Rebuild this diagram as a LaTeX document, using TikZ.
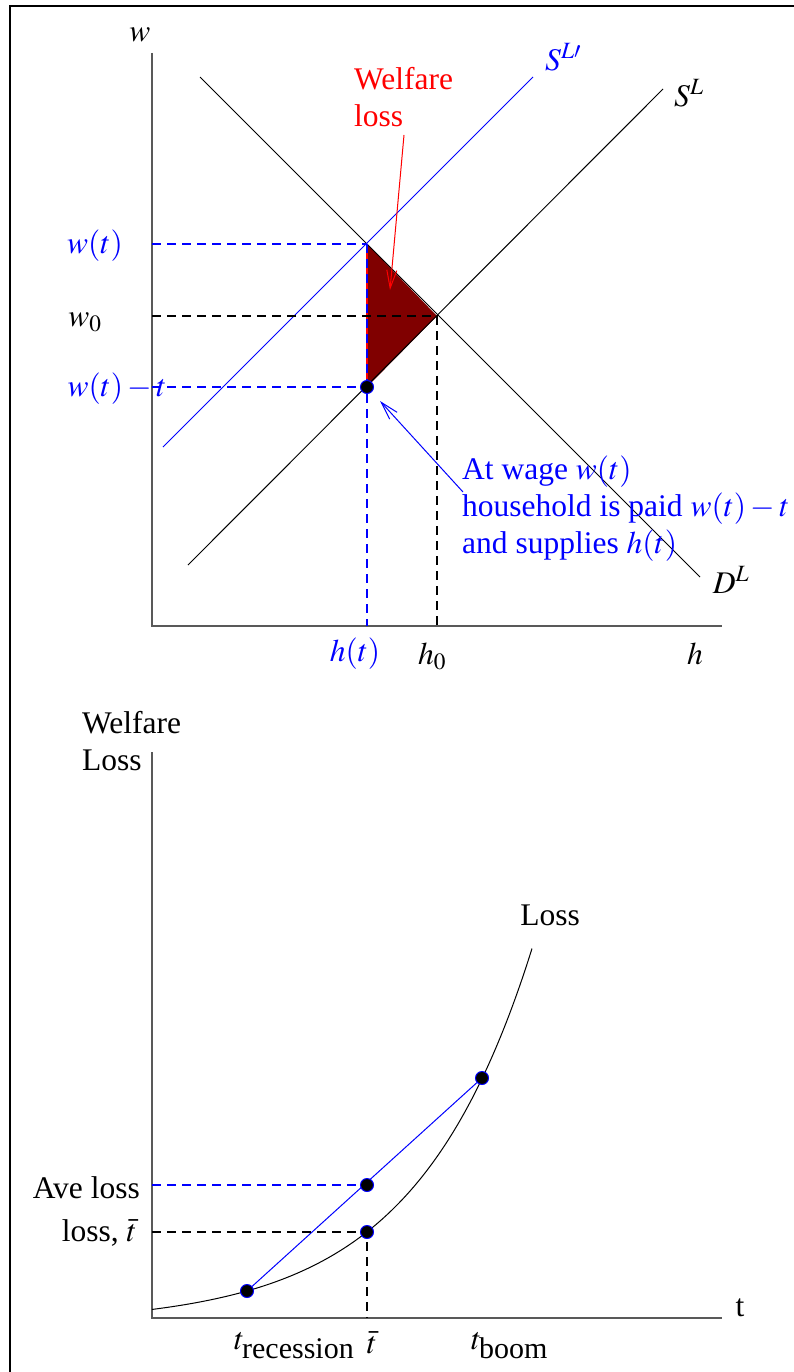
\documentclass[tikz,border=0pt]{standalone}
\usepackage{mathptmx}
\usepackage{fontspec}
\setmainfont{Liberation Serif}
\usetikzlibrary{arrows.meta}
\definecolor{pureblue}{rgb}{0,0,1}
\definecolor{darkred}{rgb}{0.5,0,0}
\begin{document}
\begin{tikzpicture}[x=1pt,y=-1pt,
  every node/.style={font=\fontsize{31.5}{37}\selectfont, inner sep=0pt},
  axis/.style={draw=black!65, line width=1.6pt},
  curve/.style={line width=1pt},
  kdash/.style={draw=black, line width=1.1pt, dash pattern=on 9pt off 6pt},
  bdash/.style={draw=pureblue, line width=1.3pt, dash pattern=on 9pt off 6pt},
  dot/.style={circle, fill=black, draw=pureblue, line width=1pt, minimum size=13pt, inner sep=0pt},
  arr/.style={-{Straight Barb[length=18pt,width=10pt]}, line width=1pt}]
\useasboundingbox (0,0) rectangle (794,1372);
% frame
\draw[line width=2.5pt] (10,1372) -- (10,6) -- (794,6);
% ---------- top graph ----------
\coordinate (O1) at (152,626);
\coordinate (Y1) at (152,53);
\coordinate (X1) at (722,626);
\coordinate (A) at (367,244);
\coordinate (E) at (437,316);
\coordinate (B) at (367,387);
\coordinate (hT) at (367,626);
\coordinate (h0) at (437,626);
\coordinate (wT) at (152,244);
\coordinate (w0) at (152,316);
\coordinate (wTt) at (152,387);
\fill[fill=darkred] (A) -- (E) -- (B) -- cycle;
\draw[red, line width=1.2pt] (A) -- (B);
\draw[axis] (Y1) -- (O1) -- (X1);
\draw[curve] (200,77) coordinate (D1) -- (700,577) coordinate (D2);
\draw[curve] (188,565) coordinate (S1) -- (663,89) coordinate (S2);
\draw[curve, draw=pureblue] (163,447) coordinate (Sp1) -- (533,77) coordinate (Sp2);
\draw[bdash] (wT) -- (A);
\draw[bdash] (wTt) -- (B);
\draw[bdash] (A) -- (hT);
\draw[kdash] (w0) -- (E) -- (h0);
\node[dot] (dotB) at (B) {};
\node (lw) at (140,35) {$w$};
\node[text=pureblue] (lSp) at (563,57) {$S^{L\prime}$};
\node (lS) at (689,93) {$S^{L}$};
\node (lD) at (731,580) {$D^{L}$};
\node[text=pureblue] (lwt) at (95,246) {$w(t)$};
\node (lw0) at (85,322) {$w_0$};
\node[text=pureblue] (lwtt) at (117,389) {$w(t)-t$};
\node[text=pureblue] (lht) at (355,654) {$h(t)$};
\node (lh0) at (432,656) {$h_0$};
\node (lh) at (695,654) {$h$};
\node[text=red, align=left, anchor=west] (wl) at (354,97) {Welfare\\loss};
\draw[arr, red] (404,135) coordinate (r1) -- (390,290) coordinate (r2);
\node[text=pureblue, align=left, anchor=west] (note) at (462,509) {At wage $w(t)$\\household is paid $w(t)-t$\\and supplies $h(t)$};
\draw[arr, draw=pureblue] (463,492) coordinate (b1) -- (380,401) coordinate (b2);
% ---------- bottom graph ----------
\coordinate (O2) at (152,1318);
\coordinate (Y2) at (152,752);
\coordinate (X2) at (722,1318);
\coordinate (P1) at (247,1291);
\coordinate (P2) at (367,1232);
\coordinate (P3) at (482,1078);
\coordinate (M) at (367,1185);
\draw[axis] (Y2) -- (O2) -- (X2);
\draw[curve] plot[domain=152:532, samples=120] (\x, {1318 - (14.87*exp(0.0085*(\x-152)) - 6.3)});
\draw[curve, draw=pureblue] (P1) -- (P3);
\draw[bdash] (152,1185) coordinate (aL) -- (M);
\draw[kdash] (152,1232) coordinate (lL) -- (P2) -- (367,1318) coordinate (tb);
\node[dot] (d1) at (P1) {};
\node[dot] (d2) at (P2) {};
\node[dot] (d3) at (P3) {};
\node[dot] (d4) at (M) {};
\node[align=left, anchor=west] (wl2) at (82,741) {Welfare\\Loss};
\node (lLoss) at (550,915) {Loss};
\node[anchor=east] (lave) at (140,1188) {Ave loss};
\node[anchor=east] (lloss) at (137,1233) {loss, $\bar t$};
\node (lt) at (740,1308) {t};
\node[anchor=base west] (ltr) at (234,1349) {$t_{\mbox{\fontsize{30}{34}\selectfont recession}}$};
\node (ltbar) at (372,1343) {$\bar t$};
\node[anchor=base west] (ltb) at (471,1349) {$t_{\mbox{\fontsize{30}{34}\selectfont boom}}$};
\end{tikzpicture}
\end{document}
